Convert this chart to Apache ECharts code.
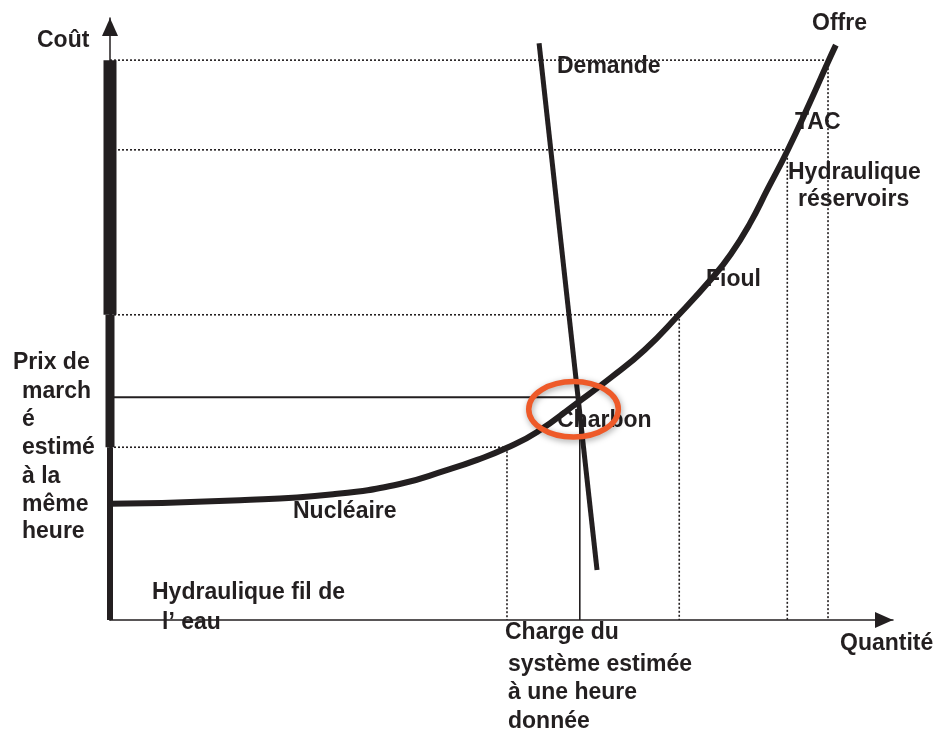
<!DOCTYPE html>
<html><head><meta charset="utf-8">
<script src="https://cdn.jsdelivr.net/npm/echarts@6/dist/echarts.min.js"></script>
<style>html,body{margin:0;padding:0;background:#fff}#c{width:933px;height:731px}</style>
</head><body><div id="c"></div>
<script>
// ---- data (abstract units: quantity 0-100, cost 0-100) ----
const supplyQuantity = [0, 16.6, 28.5, 37.0, 43.0, 46.9, 50.7, 54.5, 59.8, 63.9, 68.3, 72.5, 76.9, 79.3, 81.7, 84.0, 86.5, 89.4, 91.7, 92.7];
const supplyCost     = [19.3, 19.9, 20.9, 22.6, 24.9, 26.6, 28.6, 31.2, 36.2, 40.2, 44.9, 50.5, 56.8, 60.8, 65.8, 71.6, 77.9, 86.0, 92.7, 95.5];
const demandQuantity = [54.8, 62.2];
const demandCost     = [95.8, 8.3];
const thresholdCost     = [93.0, 78.1, 50.7, 28.7];
const thresholdQuantity = [91.7, 86.5, 72.7, 50.7];
const marketPrice = 37.0;
const systemLoad = 60.0;
const costBandTop    = [93.0, 50.7, 28.7];
const costBandBottom = [50.7, 28.7, 0];
const highlightCenter = [59.2, 35.0];

// ---- styles ----
const INK = '#231F20';
const bandWidths = [13, 9, 6];
const FONT = 'bold 23px "Liberation Sans", Arial, sans-serif';

const series = [];
thresholdCost.forEach((c, i) => {
  const q = thresholdQuantity[i];
  series.push({type:'line', data:[[0, c], [q, c]], symbol:'none', clip:false, z:2,
    lineStyle:{color:INK, width:1.6, type:[2,2]}});
  series.push({type:'line', data:[[q, c], [q, 0]], symbol:'none', clip:false, z:2,
    lineStyle:{color:INK, width:1.6, type:[2,2]}});
});
series.push({type:'line', data:[[0, marketPrice], [systemLoad, marketPrice]], symbol:'none', clip:false, z:3,
  lineStyle:{color:INK, width:2}});
series.push({type:'line', data:[[systemLoad, marketPrice], [systemLoad, 0]], symbol:'none', clip:false, z:3,
  lineStyle:{color:INK, width:1.6}});
costBandTop.forEach((t, i) => {
  series.push({type:'line', data:[[0, t], [0, costBandBottom[i]]], symbol:'none', clip:false, z:4,
    lineStyle:{color:INK, width:bandWidths[i], cap:'butt'}});
});
series.push({type:'line', name:'Offre', data: supplyQuantity.map((q, i) => [q, supplyCost[i]]),
  symbol:'none', smooth:0.5, clip:false, z:5,
  lineStyle:{color:INK, width:6, cap:'butt', join:'round'}});
series.push({type:'line', name:'Demande', data: demandQuantity.map((q, i) => [q, demandCost[i]]),
  symbol:'none', clip:false, z:5, lineStyle:{color:INK, width:5, cap:'butt'}});
series.push({type:'custom', z:10, data:[highlightCenter], clip:false,
  renderItem: (params, api) => {
    const p = api.coord([api.value(0), api.value(1)]);
    return {type:'ellipse', shape:{cx:p[0], cy:p[1], rx:44.8, ry:27.8},
      style:{fill:'none', stroke:'#EE5A29', lineWidth:5.5,
        shadowBlur:6, shadowColor:'rgba(0,0,0,0.35)', shadowOffsetX:1, shadowOffsetY:2}};
  }});

const labels = [
  ['Coût', 37, 41], ['Offre', 812, 24], ['Demande', 557, 67], ['TAC', 795, 123],
  ['Hydraulique', 788, 173], ['réservoirs', 798, 200], ['Fioul', 706, 280],
  ['Charbon', 557, 421], ['Nucléaire', 293, 512],
  ['Hydraulique fil de', 152, 593], ['l’ eau', 162, 623],
  ['Prix de', 13, 363], ['march', 22, 392], ['é', 22, 420], ['estimé', 22, 448],
  ['à la', 22, 477], ['même', 22, 505], ['heure', 22, 532],
  ['Charge du', 505, 633], ['système estimée', 508, 665], ['à une heure', 508, 693], ['donnée', 508, 722],
  ['Quantité', 840, 644]
];
const graphic = labels.map(([t, x, y]) => ({
  type:'text', x, y, z:1,
  style:{text:t, font:FONT, fill:INK, align:'left', verticalAlign:'middle',
    textAlign:'left', textVerticalAlign:'middle'}
}));

const axisLineCommon = {show:true, onZero:false, symbol:['none','triangle'], symbolSize:[16,18],
  symbolOffset:[0,-9], lineStyle:{color:INK, width:1.5}};

const chart = echarts.init(document.getElementById('c'), null, {renderer:'canvas'});
chart.setOption({
  animation:false,
  backgroundColor:'#fff',
  grid:{left:110, right:40, top:18, bottom:111},
  xAxis:{type:'value', min:0, max:100, z:3, axisLine:axisLineCommon,
    axisTick:{show:false}, axisLabel:{show:false}, splitLine:{show:false}},
  yAxis:{type:'value', min:0, max:100, z:3, axisLine:axisLineCommon,
    axisTick:{show:false}, axisLabel:{show:false}, splitLine:{show:false}},
  series,
  graphic
});
</script></body></html>
